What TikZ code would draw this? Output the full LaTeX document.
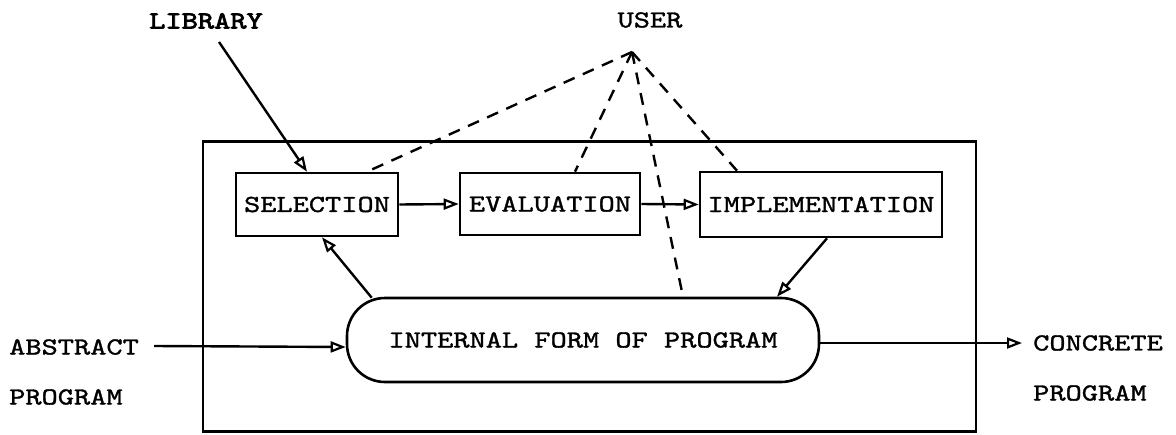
\documentclass[tikz,border=0pt]{standalone}
\usepackage{fontspec}
\usetikzlibrary{arrows.meta,calc}
\IfFontExistsTF{lmmono10-regular.otf}{%
  \newfontfamily\twfam{lmmono10-regular.otf}[FakeStretch=1.26,FakeBold=1.3]%
  \newfontfamily\twbfam{lmmono10-regular.otf}[FakeStretch=1.26,FakeBold=3]%
}{%
  \newfontfamily\twfam{Liberation Mono}%
  \newfontfamily\twbfam{Liberation Mono Bold}%
}
\newcommand\twfont{\twfam\fontsize{24.5}{30}\selectfont}
\newcommand\twbfont{\twbfam\fontsize{24.5}{30}\selectfont}
\begin{document}
\begin{tikzpicture}[x=1pt,y=-1pt,
  lbl/.style={font=\twfont, inner sep=0pt},
  stepbox/.style={draw, line width=2.6pt, inner sep=0pt, font=\twfont},
  arr/.style={line width=2.4pt, -{Triangle[open,length=15pt,width=11pt,line width=2.2pt]}},
  dsh/.style={line width=2.4pt, dash pattern=on 12pt off 9pt}]
\useasboundingbox (0,0) rectangle (1176,434);
% outer frame
\node[draw, line width=2.6pt, minimum width=773pt, minimum height=290pt, inner sep=0pt] (frame) at (589.5,286.5) {};
% boxes
\node[stepbox, minimum width=162pt, minimum height=63pt] (selection) at (317,204.5) {SELECTION};
\node[stepbox, minimum width=180pt, minimum height=62pt] (evaluation) at (550,204) {EVALUATION};
\node[stepbox, minimum width=242pt, minimum height=65pt] (implementation) at (821,204.5) {IMPLEMENTATION};
\node[stepbox, rounded corners=38pt, minimum width=472pt, minimum height=84pt] (intf) at (583,340) {INTERNAL FORM OF PROGRAM};
% outside labels
\node[lbl, font=\twbfont] (library) at (206,21) {LIBRARY};
\node[lbl] (user) at (650,20) {USER};
\node[lbl, anchor=west] (abstract) at (9,347) {ABSTRACT};
\node[lbl, anchor=west] (progL) at (9,397) {PROGRAM};
\node[lbl, anchor=west] (concrete) at (1033,343) {CONCRETE};
\node[lbl, anchor=west] (progR) at (1033,393) {PROGRAM};
\coordinate (apex) at (632,52);
% connectors
\draw[arr] ($(library.south)+(13,13)$) -- ($(selection.north)+(-10,0)$);
\draw[dsh] (apex) -- ($(selection.north)+(50,0)$);
\draw[dsh] (apex) -- ($(evaluation.north)+(25,0)$);
\draw[dsh] (apex) -- ($(implementation.north)+(-84,0)$);
\draw[dsh] (apex) -- ($(intf.north)+(100,0)$);
\draw[arr] (selection.east) -- (evaluation.west);
\draw[arr] (evaluation.east) -- (implementation.west);
\draw[arr] ($(implementation.south)+(6,0)$) -- ($(intf.north)+(194,0)$);
\draw[arr] ($(intf.north west)+(26,1)$) -- ($(selection.south)+(5,0)$);
\draw[arr] ($(abstract.east)+(15,-1)$) -- (intf.west |- abstract.east);
\draw[arr] (intf.east |- concrete.west) -- ($(concrete.west)+(-11,0)$);
\end{tikzpicture}
\end{document}
